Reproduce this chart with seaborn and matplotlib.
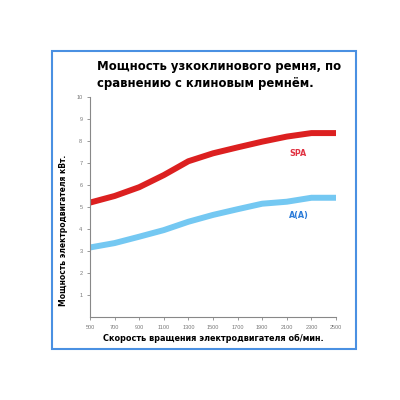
import numpy as np
import pandas as pd
import matplotlib
matplotlib.use("Agg")
import matplotlib.pyplot as plt
import seaborn as sns
from matplotlib.patches import Rectangle

speed = [500, 700, 900, 1100, 1300, 1500, 1700, 1900, 2100, 2300, 2500]
spa_power = [5.2, 5.5, 5.9, 6.45, 7.08, 7.44, 7.71, 7.97, 8.2, 8.36, 8.36]
a_power = [3.16, 3.36, 3.65, 3.95, 4.33, 4.64, 4.9, 5.15, 5.24, 5.42, 5.42]
xticks = [500, 700, 900, 1100, 1300, 1500, 1700, 1900, 2100, 2300, 2500]
yticks = [1, 2, 3, 4, 5, 6, 7, 8, 9, 10]
series_names = ["SPA", "A(A)"]

sns.set_theme(style="white")
plt.rcParams['font.family'] = ['Liberation Sans', 'DejaVu Sans']

df = pd.DataFrame({
    "speed": speed * 2,
    "power": spa_power + a_power,
    "belt": [series_names[0]] * len(speed) + [series_names[1]] * len(speed),
})

fig = plt.figure(figsize=(4, 4), dpi=100)
ax = fig.add_axes([0.225, 0.2075, 0.615, 0.55])

sns.lineplot(data=df, x="speed", y="power", hue="belt",
             palette={"SPA": "#dc2020", "A(A)": "#74c8f2"},
             linewidth=4.3, legend=False, ax=ax, solid_capstyle="round")

ax.set_xlim(500, 2500)
ax.set_ylim(0, 10)
ax.set_xticks(xticks)
ax.set_yticks(yticks)
ax.set_xticklabels([str(v) for v in xticks], fontsize=4, color="#777777")
ax.set_yticklabels([str(v) for v in yticks], fontsize=4, color="#777777")
ax.tick_params(axis="both", length=2.5, width=0.6, color="#888888", pad=3, bottom=True, left=True)
for s in ["top", "right"]:
    ax.spines[s].set_visible(False)
for s in ["left", "bottom"]:
    ax.spines[s].set_color("#888888")
    ax.spines[s].set_linewidth(0.8)

bold = ['DejaVu Sans']
ax.set_xlabel("Скорость вращения электродвигателя об/мин.", fontsize=5.9, fontweight="bold",
              color="black", labelpad=3, family=bold)
ax.set_ylabel("Мощность электродвигателя кВт.", fontsize=5.5, fontweight="bold",
              color="black", family=bold)
ax.yaxis.set_label_coords(-0.089, 0.395)

ax.text(2120, 7.45, "SPA", color="#e03040", fontsize=5.8, fontweight="bold", ha="left",
        va="center", family=bold)
ax.text(2120, 4.6, "A(A)", color="#2a7ad8", fontsize=5.8, fontweight="bold", ha="left",
        va="center", family=bold)

fig.text(0.2425, 0.8125, "Мощность узкоклинового ремня, по\nсравнению с клиновым ремнём.",
         ha="left", va="center", multialignment="left", fontsize=8.4, fontweight="bold",
         linespacing=1.4, family=bold, color="black")

fig.patches.append(Rectangle((0.13, 0.128), 0.76, 0.745, transform=fig.transFigure,
                             fill=False, edgecolor="#4a90e2", linewidth=1.5))

fig.savefig("out.png", dpi=100)
